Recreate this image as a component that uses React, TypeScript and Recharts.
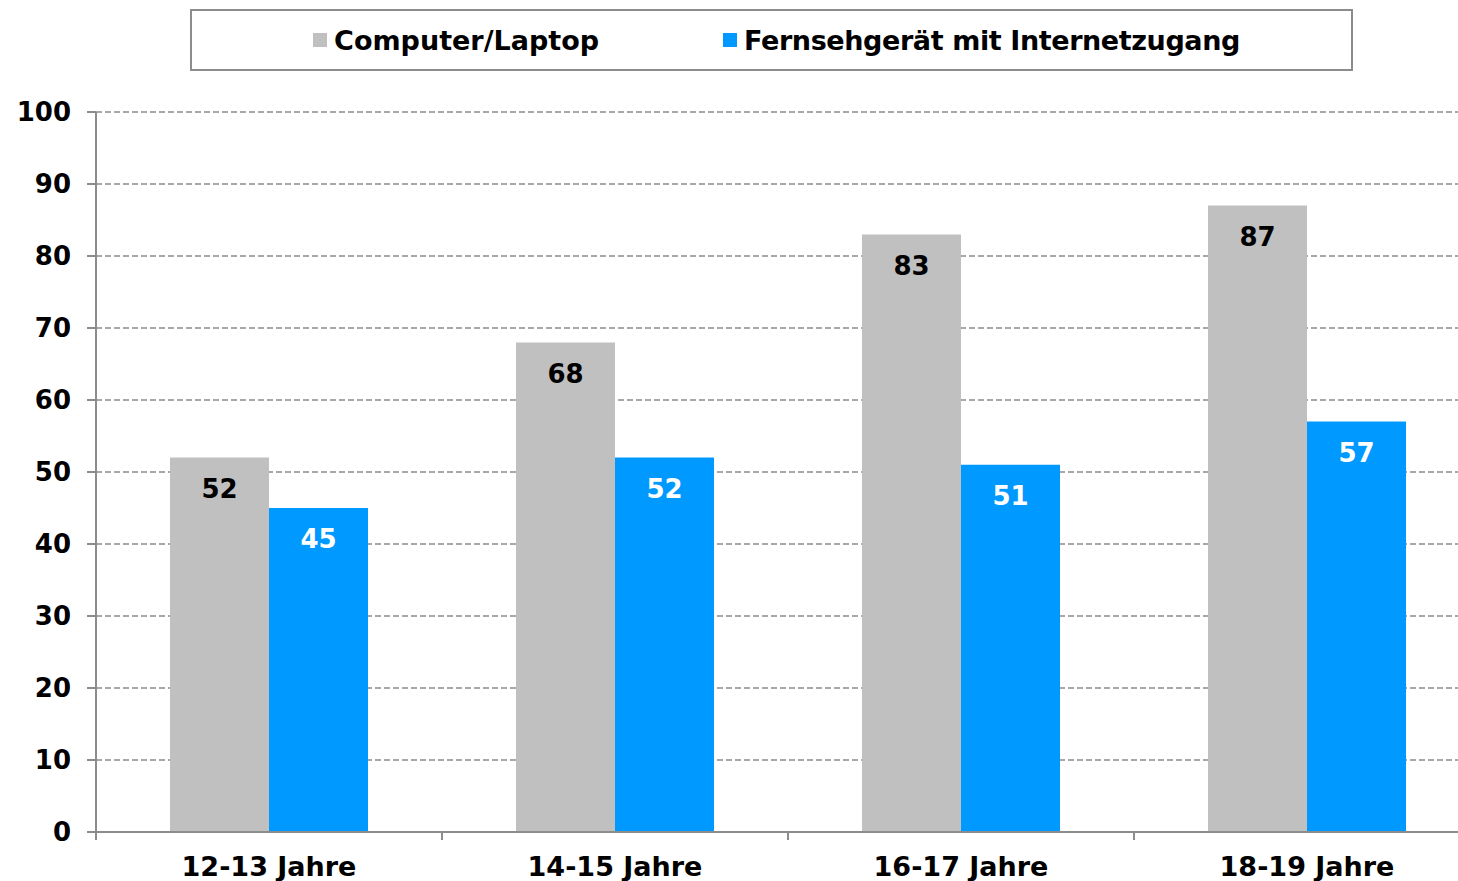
import { BarChart, Bar, XAxis, YAxis, CartesianGrid, LabelList } from "recharts";

const ageGroups = ["12-13 Jahre", "14-15 Jahre", "16-17 Jahre", "18-19 Jahre"];
const computerLaptop = [52, 68, 83, 87];
const fernseher = [45, 52, 51, 57];
const yTicks = [0, 10, 20, 30, 40, 50, 60, 70, 80, 90, 100];

const data = ageGroups.map((name, i) => ({
  name,
  computer: computerLaptop[i],
  tv: fernseher[i],
}));

const FONT = "Verdana, 'DejaVu Sans', sans-serif";
const AXIS = "#8c8c8c";
const BAND = 346;

function XTick(props: any) {
  const { x, y, payload, index } = props;
  return (
    <g>
      <line x1={x - BAND / 2} y1={y - 8} x2={x - BAND / 2} y2={y} stroke={AXIS} strokeWidth={2} />
      {index === ageGroups.length - 1 && (
        <line x1={x + BAND / 2} y1={y - 8} x2={x + BAND / 2} y2={y} stroke={AXIS} strokeWidth={2} />
      )}
      <text x={x} y={y + 36} textAnchor="middle" fontFamily={FONT} fontWeight="bold" fontSize={27} fill="#000">
        {payload.value}
      </text>
    </g>
  );
}

function LegendBox() {
  const item = (color: string, label: string, spacing: number) => (
    <span style={{ display: "inline-flex", alignItems: "center", letterSpacing: spacing }}>
      <span style={{ width: 14, height: 14, background: color, marginRight: 7, display: "inline-block" }} />
      {label}
    </span>
  );
  return (
    <div
      style={{
        position: "absolute",
        top: 9,
        left: 190,
        width: 1163,
        height: 62,
        border: `2px solid ${AXIS}`,
        display: "flex",
        alignItems: "center",
        justifyContent: "center",
        gap: 124,
        paddingLeft: 10,
        fontFamily: FONT,
        fontWeight: "bold",
        fontSize: 27,
        color: "#000",
        boxSizing: "border-box",
        background: "#fff",
      }}
    >
      {item("#c0c0c0", "Computer/Laptop", 0)}
      {item("#0099ff", "Fernsehgerät mit Internetzugang", -0.4)}
    </div>
  );
}

export default function App() {
  return (
    <div style={{ position: "absolute", left: 0, top: 0, width: 1458, height: 881, overflow: "hidden", background: "#fff" }}>
      <BarChart
        width={1480}
        height={881}
        data={data}
        margin={{ top: 112, right: 0, bottom: 0, left: 0 }}
        barGap={0}
      >
        <CartesianGrid vertical={false} stroke={AXIS} strokeDasharray="6 3" strokeWidth={1.5} />
        <XAxis
          dataKey="name"
          height={49}
          axisLine={{ stroke: AXIS, strokeWidth: 2 }}
          tickLine={false}
          tick={<XTick />}
          interval={0}
        />
        <YAxis
          width={96}
          domain={[0, 100]}
          ticks={yTicks}
          interval={0}
          axisLine={{ stroke: AXIS, strokeWidth: 2 }}
          tickLine={{ stroke: AXIS, strokeWidth: 2 }}
          tickSize={9}
          tickMargin={16}
          tick={{ fontFamily: FONT, fontWeight: "bold", fontSize: 26, fill: "#000" }}
        />
        <Bar dataKey="computer" name="Computer/Laptop" fill="#c0c0c0" barSize={99} isAnimationActive={false}>
          <LabelList dataKey="computer" position="insideTop" offset={22} fontFamily={FONT} fontWeight="bold" fontSize={26} fill="#000" />
        </Bar>
        <Bar dataKey="tv" name="Fernsehgerät mit Internetzugang" fill="#0099ff" barSize={99} isAnimationActive={false}>
          <LabelList dataKey="tv" position="insideTop" offset={22} fontFamily={FONT} fontWeight="bold" fontSize={26} fill="#fff" />
        </Bar>
      </BarChart>
      <LegendBox />
    </div>
  );
}
